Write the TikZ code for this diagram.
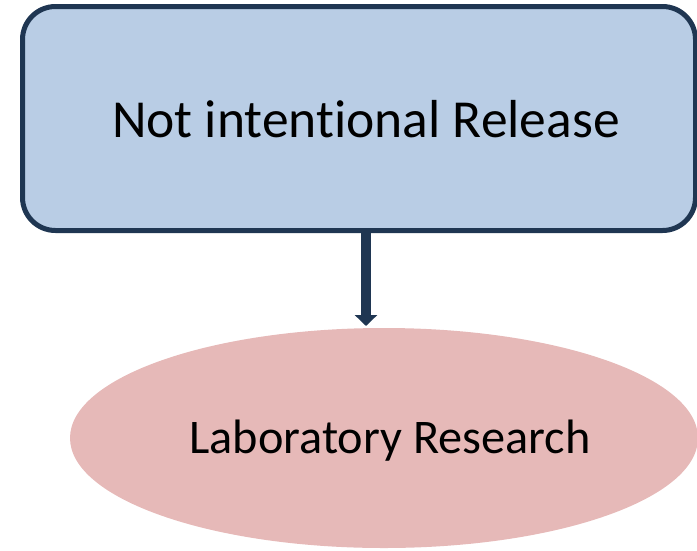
\documentclass[tikz,border=0pt]{standalone}
\usepackage{fontspec}
\setmainfont[Ligatures=CommonOff]{Carlito}
\usetikzlibrary{shapes.geometric,arrows.meta}
\definecolor{boxfill}{HTML}{B9CDE5}
\definecolor{navy}{HTML}{1F3652}
\definecolor{pinkfill}{HTML}{E6B9B8}
\tikzset{
  topbox/.style={draw=navy, fill=boxfill, line width=5pt, rounded corners=33pt, rectangle, inner sep=0pt, outer sep=0pt},
  ovalbox/.style={ellipse, fill=pinkfill, draw=none, inner sep=0pt, outer sep=0pt},
  bigtext/.style={anchor=base, inner sep=0pt, font=\fontsize{53.5}{60}\selectfont},
  ovaltext/.style={anchor=base, inner sep=0pt, font=\fontsize{48.3}{54}\selectfont},
  conn/.style={draw=navy, line width=10pt, -{Triangle[width=22pt,length=11pt]}}
}
\begin{document}
\begin{tikzpicture}[x=1pt,y=-1pt]
\useasboundingbox (0,0) rectangle (697,550);
\node[topbox, minimum width=673pt, minimum height=224pt] (rect) at (359,118.5) {};
\node[bigtext] (toptext) at (366,137) {Not intentional Release};
\node[ovalbox, minimum width=628pt, minimum height=220pt] (ell) at (384,438) {};
\node[ovaltext] (ovaltext) at (390,453) {Laboratory Research};
\coordinate (ax) at (366,0);
\draw[conn] (rect.south -| ax) -- ([yshift=2pt]ell.north -| ax);
\end{tikzpicture}
\end{document}
